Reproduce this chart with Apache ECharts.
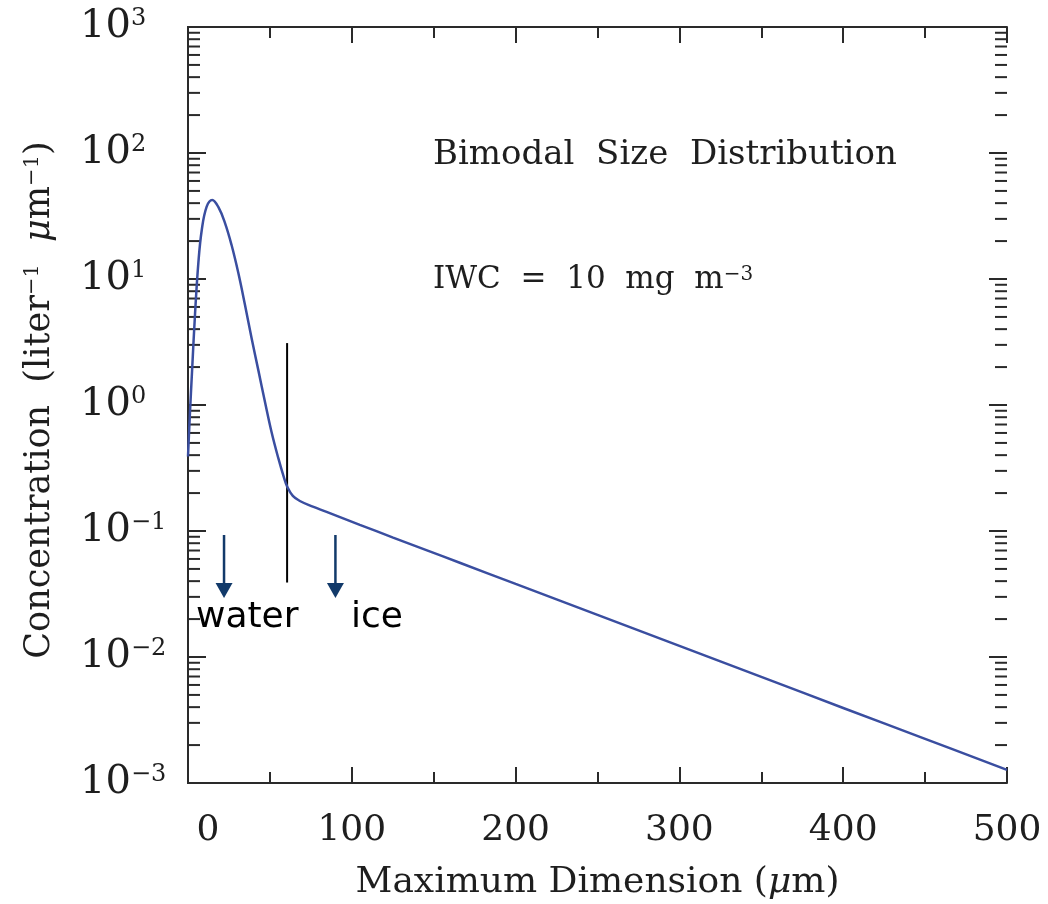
<!DOCTYPE html>
<html><head><meta charset="utf-8">
<script src="https://cdn.jsdelivr.net/npm/echarts/dist/echarts.min.js"></script>
<style>html,body{margin:0;padding:0;background:#fff}#c{width:1048px;height:904px}</style>
</head><body><div id="c"></div>
<script>
// ---- data ----
const sizes = [0, 1.2, 2.6, 4.3, 6.3, 8.4, 11.4, 14.8, 18.5, 22.6, 26.6, 30.7, 34.8, 38.8, 42.9, 47.0, 51.0, 55.1, 58.5, 60.7, 64.0, 68.3, 76.2, 84.6, 104.9, 125.2, 145.5, 165.9, 200, 250, 300, 350, 400, 450, 500];
const concentrations = [0.39, 0.87, 2.0, 5.3, 13.3, 24.5, 37.5, 42.4, 37.3, 27.8, 18.6, 11.2, 6.22, 3.40, 1.90, 1.057, 0.611, 0.380, 0.268, 0.223, 0.190, 0.173, 0.156, 0.142, 0.112, 0.0887, 0.0705, 0.056, 0.038, 0.0216, 0.01225, 0.00695, 0.00394, 0.00224, 0.00127];
const xTickLabels = ['0', '100', '200', '300', '400', '500'];
const yDecades = [0.001, 0.01, 0.1, 1, 10, 100, 1000];
const minorMantissas = [2, 3, 4, 5, 6, 7, 8, 9];
const dividerSize = [60.5, 60.5];
const dividerConc = [3.1, 0.039];
const arrowSizes = [22, 90];
const arrowTop = 0.093;
const arrowHead = 0.0337;

// ---- build structures ----
const curve = sizes.map((s, i) => [s, concentrations[i]]);
const majorTicks = yDecades.map(d => [0, d]);
const minorTicks = [];
yDecades.slice(0, -1).forEach(d => minorMantissas.forEach(m => minorTicks.push([0, d * m])));

const SERIF = '"DejaVu Serif", serif';
const INK = '#1e1e1e';
const FRAME = '#2a2a2a';
const NAVY = '#123a6a';

const chart = echarts.init(document.getElementById('c'), null, {renderer: 'canvas'});
const axisLine = {show: true, lineStyle: {color: FRAME, width: 2}};

function tickSeries(data, len) {
  return {
    type: 'custom', silent: true, clip: false,
    xAxisIndex: 0, yAxisIndex: 0, data: data, z: 1,
    renderItem: (params, api) => {
      const y = api.coord([0, api.value(1)])[1];
      const cs = params.coordSys;
      const st = {stroke: FRAME, lineWidth: 2};
      return {type: 'group', children: [
        {type: 'line', shape: {x1: cs.x, y1: y, x2: cs.x + len, y2: y}, style: st},
        {type: 'line', shape: {x1: cs.x + cs.width, y1: y, x2: cs.x + cs.width - len, y2: y}, style: st}
      ]};
    }
  };
}

chart.setOption({
  backgroundColor: '#fff',
  animation: false,
  grid: {left: 188, right: 41, top: 27, bottom: 121, containLabel: false, outerBoundsMode: 'none'},
  xAxis: [{
    type: 'value', min: 0, max: 500, interval: 100, position: 'bottom',
    axisLine: axisLine, splitLine: {show: false},
    axisTick: {show: true, inside: true, length: 16, lineStyle: {color: FRAME, width: 2}},
    minorTick: {show: true, splitNumber: 2, length: 11, lineStyle: {color: FRAME, width: 2}},
    axisLabel: {
      margin: 30, color: INK, fontFamily: SERIF, fontSize: 36,
      formatter: (v) => { const t = xTickLabels[Math.round(v / 100)]; return v === 0 ? '{z|' + t + '}' : t; },
      rich: {z: {padding: [0, 0, 0, 40], fontFamily: SERIF, fontSize: 36, color: INK}}
    },
    name: 'Maximum Dimension ({i|μ}m)', nameLocation: 'middle', nameGap: 82,
    nameTextStyle: {color: INK, fontFamily: SERIF, fontSize: 36,
      rich: {i: {fontStyle: 'italic', fontFamily: SERIF, fontSize: 36, color: INK}}}
  }, {
    type: 'value', min: 0, max: 500, interval: 100, position: 'top',
    axisLine: axisLine, splitLine: {show: false}, axisLabel: {show: false},
    axisTick: {show: true, inside: true, length: 16, lineStyle: {color: FRAME, width: 2}},
    minorTick: {show: true, splitNumber: 2, length: 11, lineStyle: {color: FRAME, width: 2}}
  }],
  yAxis: [{
    type: 'log', logBase: 10, min: 0.001, max: 1000, splitNumber: 6, position: 'left',
    axisLine: axisLine, splitLine: {show: false},
    axisTick: {show: false},
    axisLabel: {
      margin: 108, align: 'left', color: INK,
      formatter: (v) => { const e = Math.round(Math.log10(v)); return '{b|10}{s|' + String(e).replace('-', '−') + '}'; },
      rich: {
        b: {fontFamily: SERIF, fontSize: 40, color: INK},
        s: {fontFamily: SERIF, fontSize: 24, color: INK, verticalAlign: 'top'}
      }
    }
  }, {
    type: 'log', logBase: 10, min: 0.001, max: 1000, splitNumber: 6, position: 'right',
    axisLine: axisLine, splitLine: {show: false}, axisLabel: {show: false},
    axisTick: {show: false}
  }],
  series: [
    tickSeries(majorTicks, 18),
    tickSeries(minorTicks, 12),
  {
    type: 'line', name: 'distribution', data: curve, smooth: 0.4, showSymbol: false,
    lineStyle: {color: '#3a4ea0', width: 2.5}, z: 5
  }, {
    type: 'line', name: 'divider', data: dividerSize.map((s, i) => [s, dividerConc[i]]),
    showSymbol: false, lineStyle: {color: '#000', width: 2}
  }, ...arrowSizes.map(s => ({
    type: 'line', data: [[s, arrowTop], [s, arrowHead]], showSymbol: false,
    lineStyle: {color: NAVY, width: 2.5}
  })), {
    type: 'scatter', name: 'heads', data: arrowSizes.map(s => [s, arrowHead]),
    symbol: 'triangle', symbolRotate: 180, symbolSize: [17, 15],
    itemStyle: {color: NAVY, opacity: 1}
  }],
  graphic: [{
    type: 'text', x: 40, y: 400, rotation: Math.PI / 2,
    style: {text: 'Concentration  (liter{s|−1}  {i|μ}m{s|−1})', fill: INK, font: '35px ' + SERIF,
      align: 'center', verticalAlign: 'middle',
      rich: {s: {fontSize: 21, fontFamily: SERIF, verticalAlign: 'top', fill: INK},
             i: {fontSize: 35, fontFamily: SERIF, fontStyle: 'italic', fill: INK}}}
  }, {
    type: 'text', x: 433, y: 155,
    style: {text: 'Bimodal  Size  Distribution', fill: INK, font: '34px ' + SERIF, verticalAlign: 'middle'}
  }, {
    type: 'text', x: 433, y: 280,
    style: {text: 'IWC  =  10  mg  m{s|−3}', fill: INK, font: '31px ' + SERIF, verticalAlign: 'middle',
      rich: {s: {fontSize: 20, fontFamily: SERIF, verticalAlign: 'top', fill: INK}}}
  }, {
    type: 'text', x: 196, y: 618,
    style: {text: 'water', fill: '#000', font: '36px "DejaVu Sans", sans-serif', verticalAlign: 'middle'}
  }, {
    type: 'text', x: 351, y: 618,
    style: {text: 'ice', fill: '#000', font: '36px "DejaVu Sans", sans-serif', verticalAlign: 'middle'}
  }]
});
</script>
</body></html>
